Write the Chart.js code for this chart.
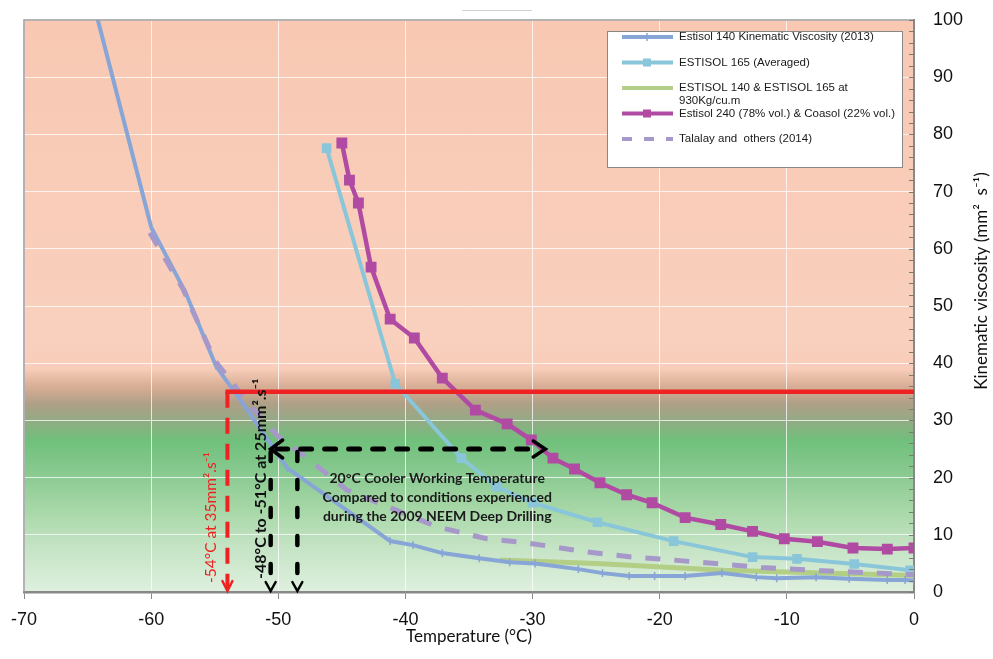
<!DOCTYPE html>
<html>
<head>
<meta charset="utf-8">
<title>Kinematic viscosity vs temperature</title>
<script src="https://cdn.jsdelivr.net/npm/chart.js@4.4.1/dist/chart.umd.min.js"></script>
<style>
  html, body { margin: 0; padding: 0; background: #fff; }
  #wrap { width: 993px; height: 659px; }
</style>
</head>
<body>
<div id="wrap"><canvas id="viscChart" width="993" height="659"></canvas></div>
<script>
// values: temperature (°C) / kinematic viscosity (mm² s⁻¹)
const estisol140Temp = [-65, -60, -57.3, -54.9, -52.5, -49.3, -41.2, -39.4, -37.1, -34.2, -31.8, -29.8, -26.4, -24.5, -22.4, -20.4, -18, -15.1, -12.4, -10.8, -7.7, -5.1, -2.1, -0.7, 0];
const estisol140Visc = [107, 63.8, 52.4, 39.5, 32.0, 21.7, 8.9, 8.2, 6.8, 5.9, 5.2, 5.0, 4.0, 3.3, 2.8, 2.8, 2.8, 3.3, 2.6, 2.4, 2.6, 2.3, 2.1, 2.1, 2.0];

const estisol165Temp = [-46.2, -40.8, -35.6, -32.8, -30.0, -24.9, -18.9, -12.7, -9.2, -4.7, -0.3];
const estisol165Visc = [77.6, 36.4, 23.4, 18.4, 15.6, 12.2, 8.9, 6.1, 5.8, 4.9, 3.8];

const density930Temp = [-32.6, -25, -15, -5, 0];
const density930Visc = [5.6, 5.0, 3.8, 3.2, 2.9];

const estisol240Temp = [-45.0, -44.4, -43.7, -42.7, -41.2, -39.3, -37.1, -34.5, -32.0, -30.1, -28.4, -26.7, -24.7, -22.6, -20.6, -18.0, -15.2, -12.7, -10.2, -7.6, -4.8, -2.1, 0];
const estisol240Visc = [78.5, 72.0, 68.0, 56.8, 47.7, 44.4, 37.4, 31.8, 29.4, 26.6, 23.4, 21.5, 19.1, 17.0, 15.6, 13.0, 11.8, 10.6, 9.3, 8.8, 7.7, 7.5, 7.7];

const talalayTemp = [-60.1, -57.5, -55, -52.2, -50.1, -47.6, -44.6, -37.5, -33.6, -30.5, -25.7, -22.1, -19, -12, -7.2, -2.7, 0];
const talalayVisc = [62.8, 53, 40.5, 32.5, 27.4, 23.2, 17.8, 11.4, 9.3, 8.6, 7.0, 6.1, 5.6, 4.3, 3.7, 3.3, 3.0];

const seriesLabels = [
  'Estisol 140 Kinematic Viscosity (2013)',
  'ESTISOL 165 (Averaged)',
  'ESTISOL 140 & ESTISOL 165 at\n930Kg/cu.m',
  'Estisol 240 (78% vol.) & Coasol (22% vol.)',
  'Talalay and  others (2014)'
];

// annotation values
const redLimitTemp = -54, redLimitVisc = 35;
const workTemps = [-50.6, -48.5], workVisc = 25, coolerArrowTemp = -29;
const redNote = '-54°C at 35mm².s⁻¹';
const blackNote = '-48°C to -51°C at 25mm².s⁻¹';
const centerNote = ['20°C Cooler Working Temperature', 'Compared to conditions experienced', 'during the 2009 NEEM Deep Drilling'];

const pts = (xs, ys) => xs.map((t, i) => ({ x: t, y: ys[i] }));

// shaded background: salmon above the limit, green below
const bgPlugin = {
  id: 'bg',
  beforeDraw(chart) {
    const { ctx, chartArea: a, scales: { y } } = chart;
    const g = ctx.createLinearGradient(0, a.top, 0, a.bottom);
    const stop = (v, c) => g.addColorStop((y.getPixelForValue(v) - a.top) / (a.bottom - a.top), c);
    stop(100, '#f8c8b2');
    stop(44, '#f9d0be');
    stop(39, '#f8cdb9');
    stop(36, '#d9ae96');
    stop(33, '#b0a087');
    stop(30.5, '#98a886');
    stop(26.5, '#70c07b');
    stop(21, '#88c990');
    stop(14, '#a9d8a8');
    stop(8, '#c4e3c4');
    stop(0, '#dff0df');
    ctx.save();
    ctx.fillStyle = g;
    ctx.fillRect(a.left, a.top, a.right - a.left, a.bottom - a.top);
    ctx.restore();
  }
};

function chevron(ctx, tipX, tipY, dx, dy, color, w) {
  ctx.strokeStyle = color;
  ctx.lineWidth = w;
  ctx.setLineDash([]);
  ctx.lineCap = 'round';
  ctx.lineJoin = 'miter';
  ctx.beginPath();
  ctx.moveTo(tipX + dx[0], tipY + dy[0]);
  ctx.lineTo(tipX, tipY);
  ctx.lineTo(tipX + dx[1], tipY + dy[1]);
  ctx.stroke();
}

function rotatedText(ctx, txt, cx, bottomY, font, color) {
  ctx.save();
  ctx.translate(cx, bottomY);
  ctx.rotate(-Math.PI / 2);
  ctx.font = font;
  ctx.fillStyle = color;
  ctx.textAlign = 'left';
  ctx.textBaseline = 'middle';
  ctx.fillText(txt, 0, 0);
  ctx.restore();
}

const notesPlugin = {
  id: 'notes',
  afterDatasetsDraw(chart) {
    const { ctx, chartArea: a, scales: { x, y } } = chart;
    const y0 = y.getPixelForValue(0);
    ctx.save();

    // red limit at 35 mm²/s
    const rx = x.getPixelForValue(redLimitTemp), ry = y.getPixelForValue(redLimitVisc);
    ctx.strokeStyle = '#ee2222';
    ctx.lineWidth = 4.5;
    ctx.beginPath(); ctx.moveTo(rx - 2, ry); ctx.lineTo(a.right, ry); ctx.stroke();
    ctx.lineWidth = 4;
    ctx.setLineDash([16, 10]);
    ctx.beginPath(); ctx.moveTo(rx, ry); ctx.lineTo(rx, y0 - 4); ctx.stroke();
    chevron(ctx, rx, y0 - 1, [-5, 5], [-10, -10], '#ee2222', 2.5);

    // black working range at 25 mm²/s
    const wy = y.getPixelForValue(workVisc);
    const wx1 = x.getPixelForValue(workTemps[0]), wx2 = x.getPixelForValue(workTemps[1]);
    const ax = x.getPixelForValue(coolerArrowTemp);
    ctx.strokeStyle = '#000';
    ctx.lineCap = 'round';
    ctx.lineWidth = 5;
    ctx.setLineDash([11, 13]);
    ctx.beginPath(); ctx.moveTo(wx1 + 6, wy); ctx.lineTo(ax - 10, wy); ctx.stroke();
    ctx.lineWidth = 4.5;
    ctx.setLineDash([9, 19]);
    [wx1, wx2].forEach(px => {
      ctx.beginPath(); ctx.moveTo(px, wy + 3); ctx.lineTo(px, y0 - 6); ctx.stroke();
    });
    chevron(ctx, wx1, y0 - 1, [-5, 5], [-9, -9], '#000', 2.5);
    chevron(ctx, wx2, y0 - 1, [-5, 5], [-9, -9], '#000', 2.5);
    chevron(ctx, wx1, wy, [12, 12], [-9, 9], '#000', 3.5);
    chevron(ctx, ax, wy, [-12, -12], [-8, 8], '#000', 3.5);

    // notes
    rotatedText(ctx, redNote, x.getPixelForValue(-55.3), y0 - 9, '15.5px Lato', '#ee2222');
    rotatedText(ctx, blackNote, x.getPixelForValue(-51.4), y0 - 13, 'bold 16px Lato', '#111');
    ctx.font = 'bold 14px Lato';
    ctx.fillStyle = '#1a1a1a';
    ctx.textAlign = 'center';
    ctx.textBaseline = 'middle';
    const cx = x.getPixelForValue(-37.5);
    centerNote.forEach((line, i) => ctx.fillText(line, cx, y.getPixelForValue(19.8) + i * 19));
    ctx.restore();
  },
  afterDraw(chart) {
    const { ctx, chartArea: a, scales: { y } } = chart;
    ctx.save();
    // frame
    ctx.strokeStyle = '#9c9c9c';
    ctx.lineWidth = 1.5;
    ctx.beginPath();
    ctx.moveTo(a.left, a.bottom); ctx.lineTo(a.left, a.top); ctx.lineTo(a.right, a.top);
    ctx.stroke();
    // minor ticks on the right axis
    ctx.strokeStyle = '#7a7a7a';
    ctx.lineWidth = 1;
    for (let v = 0; v <= 100; v += 2) {
      const py = Math.round(y.getPixelForValue(v)) + 0.5;
      ctx.beginPath(); ctx.moveTo(a.right - 5, py); ctx.lineTo(a.right, py); ctx.stroke();
    }
    // small mark above the plot
    ctx.strokeStyle = '#d2d2d2';
    ctx.beginPath(); ctx.moveTo(462, 10.5); ctx.lineTo(532, 10.5); ctx.stroke();

    // axis titles
    ctx.fillStyle = '#111';
    ctx.font = '17px Lato';
    ctx.textAlign = 'center';
    ctx.textBaseline = 'middle';
    ctx.fillText('Temperature (°C)', (a.left + a.right) / 2, 637);
    ctx.translate(982, 281);
    ctx.rotate(-Math.PI / 2);
    ctx.fillText('Kinematic viscosity (mm²  s⁻¹)', 0, 0);
    ctx.setTransform(1, 0, 0, 1, 0, 0);

    // legend box
    const L = { x: 607, y: 31, w: 295, h: 136 };
    ctx.fillStyle = '#fff';
    ctx.fillRect(L.x, L.y, L.w, L.h);
    ctx.strokeStyle = '#888';
    ctx.lineWidth = 1;
    ctx.strokeRect(L.x + 0.5, L.y + 0.5, L.w, L.h);
    chart.data.datasets.forEach((ds, i) => {
      const cy = L.y + 6 + i * 25.5;
      ctx.strokeStyle = ds.borderColor;
      ctx.lineWidth = Math.min(ds.borderWidth, 4);
      ctx.lineCap = 'butt';
      ctx.setLineDash(ds.borderDash ? [10, 12] : []);
      ctx.beginPath(); ctx.moveTo(L.x + 15, cy); ctx.lineTo(L.x + 66, cy); ctx.stroke();
      ctx.setLineDash([]);
      const mx = L.x + 40;
      if (ds.pointStyle === 'rect') {
        ctx.fillStyle = ds.borderColor;
        ctx.fillRect(mx - 4, cy - 4, 8, 8);
      } else if (ds.pointStyle === 'line') {
        ctx.lineWidth = 1.5;
        ctx.beginPath(); ctx.moveTo(mx, cy - 4); ctx.lineTo(mx, cy + 4); ctx.stroke();
      }
      ctx.fillStyle = '#1a1a1a';
      ctx.font = '11.5px "Liberation Sans", Arial, sans-serif';
      ctx.textAlign = 'left';
      ds.label.split('\n').forEach((t, k) => ctx.fillText(t, L.x + 72, cy + k * 13));
    });
    ctx.restore();
  }
};

Chart.defaults.font.family = '"Liberation Sans", Arial, sans-serif';
Chart.defaults.color = '#111';

new Chart(document.getElementById('viscChart'), {
  type: 'line',
  data: {
    datasets: [
      {
        label: seriesLabels[0],
        data: pts(estisol140Temp, estisol140Visc),
        borderColor: '#87a5d6', borderWidth: 4,
        pointStyle: 'line', rotation: 90, pointRadius: 4, pointBorderWidth: 1.5,
        pointBorderColor: '#87a5d6', order: 3
      },
      {
        label: seriesLabels[1],
        data: pts(estisol165Temp, estisol165Visc),
        borderColor: '#8ac6d9', backgroundColor: '#8ac6d9', borderWidth: 4,
        pointStyle: 'rect', pointRadius: 4, order: 2
      },
      {
        label: seriesLabels[2],
        data: pts(density930Temp, density930Visc),
        borderColor: '#b3cf85', borderWidth: 5, pointRadius: 0, order: 4
      },
      {
        label: seriesLabels[3],
        data: pts(estisol240Temp, estisol240Visc),
        borderColor: '#b04aa2', backgroundColor: '#b04aa2', borderWidth: 4.5,
        pointStyle: 'rect', pointRadius: 4.5, order: 1
      },
      {
        label: seriesLabels[4],
        data: pts(talalayTemp, talalayVisc),
        borderColor: '#a698c8', borderWidth: 5, borderDash: [15, 14],
        pointRadius: 0, order: 0
      }
    ]
  },
  options: {
    responsive: false,
    animation: false,
    devicePixelRatio: 1,
    layout: { padding: { left: 24, top: 20, right: 0, bottom: 0 } },
    plugins: { legend: { display: false }, tooltip: { enabled: false } },
    elements: { line: { tension: 0, fill: false } },
    scales: {
      x: {
        type: 'linear', min: -70, max: 0,
        ticks: { stepSize: 10, font: { size: 18 }, padding: 10, color: '#111' },
        grid: { color: 'rgba(255,255,255,0.75)', tickColor: '#888', tickLength: 7 },
        border: { color: '#888', width: 2.5 },
        afterFit(s) { s.height = 67; s.paddingLeft = 0; s.paddingRight = 0; }
      },
      y: {
        position: 'right', min: 0, max: 100,
        ticks: { stepSize: 10, font: { size: 18 }, padding: 19, color: '#111' },
        grid: { color: 'rgba(255,255,255,0.75)', drawTicks: false },
        border: { color: '#888', width: 2 },
        afterFit(s) { s.width = 79; s.paddingTop = 0; s.paddingBottom = 0; }
      }
    }
  },
  plugins: [bgPlugin, notesPlugin]
});
</script>
</body>
</html>
